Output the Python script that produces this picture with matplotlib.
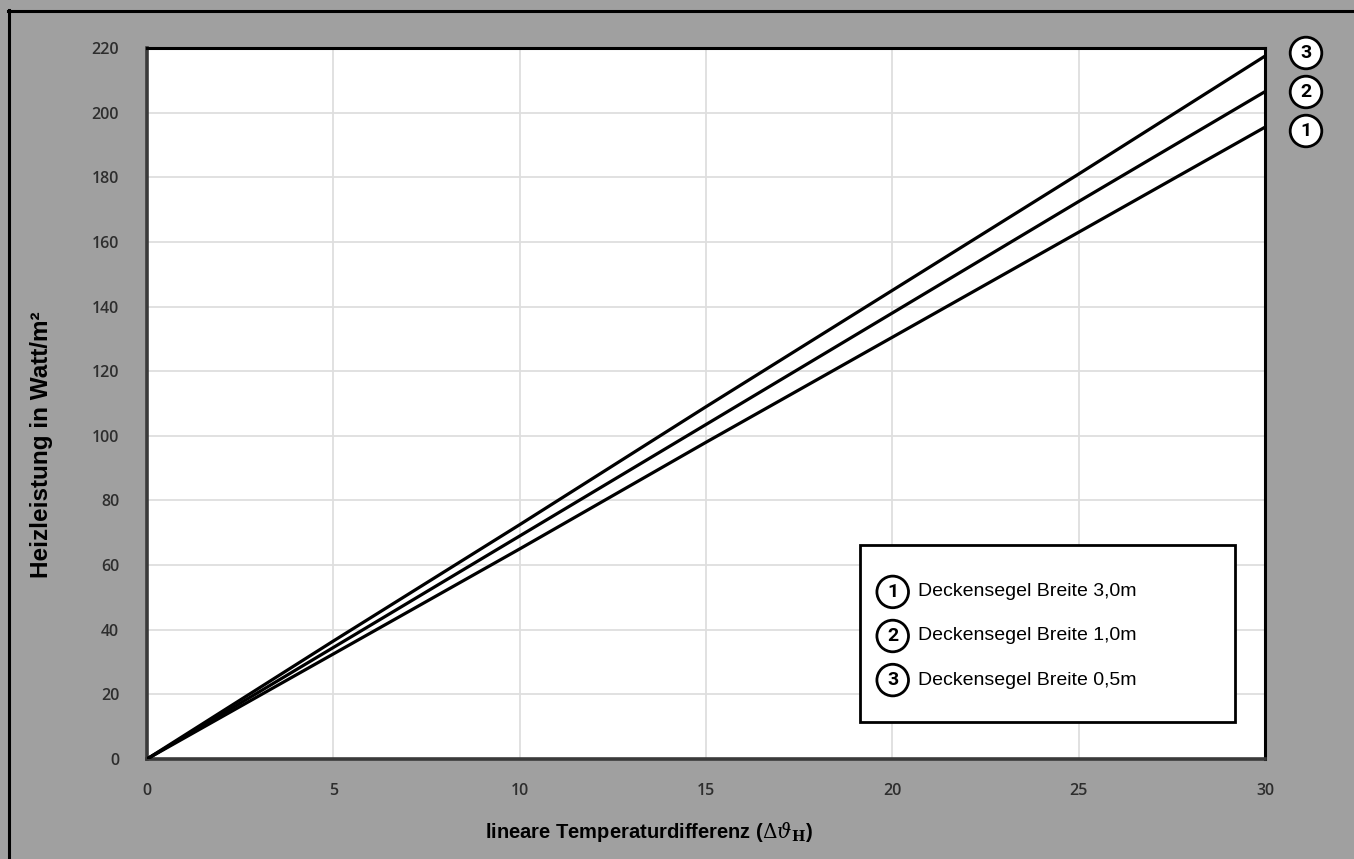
import matplotlib.pyplot as plt
from matplotlib.patches import Rectangle
from matplotlib.lines import Line2D

# Data
temp_diff = [0, 5, 10, 15, 20, 25, 30]
breite_3_0 = [0, 32.5, 65, 98, 130.5, 163, 195.5]
breite_1_0 = [0, 34.5, 69, 103.5, 138, 172.5, 206.5]
breite_0_5 = [0, 36.5, 72.5, 109, 145, 181, 217.5]
series = [breite_3_0, breite_1_0, breite_0_5]
legend_labels = ['Deckensegel Breite 3,0m', 'Deckensegel Breite 1,0m', 'Deckensegel Breite 0,5m']
x_ticks = [0, 5, 10, 15, 20, 25, 30]
y_ticks = list(range(0, 221, 20))

sans = ['Liberation Sans', 'DejaVu Sans']
bg = '#a0a0a0'

fig = plt.figure(figsize=(13.54, 8.59), dpi=100, facecolor=bg)
ax = fig.add_axes([147 / 1354, 1 - 759 / 859, 1118 / 1354, 711 / 859])
ax.set_facecolor('white')

for ys in series:
    ax.plot(temp_diff, ys, color='black', linewidth=2.3, solid_capstyle='butt', zorder=3)

ax.set_xlim(0, 30)
ax.set_ylim(0, 220)
ax.set_xticks(x_ticks)
ax.set_yticks(y_ticks)
ax.grid(True, color='#dedede', linewidth=1.3)
ax.set_axisbelow(True)
ax.tick_params(length=0, labelsize=11.5, labelcolor='#2e2e2e', pad=20)
ax.tick_params(axis='x', pad=17)
for lbl in ax.get_xticklabels() + ax.get_yticklabels():
    lbl.set_fontfamily(['Open Sans', 'DejaVu Sans'])
    lbl.set_fontweight('semibold')

for side in ['top', 'right']:
    ax.spines[side].set_color('black')
    ax.spines[side].set_linewidth(2.2)
for side in ['left', 'bottom']:
    ax.spines[side].set_color('#3a3a3a')
    ax.spines[side].set_linewidth(2.6)

# axis titles
fig.text(42 / 1354, 1 - 445 / 859, 'Heizleistung in Watt/m²', rotation=90,
         ha='center', va='center', fontsize=17.5, fontweight='bold', family=sans)
fig.text(649 / 1354, 1 - 832 / 859, 'lineare Temperaturdifferenz ($\\Delta\\vartheta_{\\mathsf{\\mathbf{H}}}$)',
         ha='center', va='center', fontsize=14.5, fontweight='bold', family=sans,
         math_fontfamily='dejavuserif')

circle_box = dict(boxstyle='circle,pad=0.35', facecolor='white', edgecolor='black', linewidth=2)

# legend box
ax.add_patch(Rectangle((0.638, 0.052), 0.335, 0.249, transform=ax.transAxes,
                       facecolor='white', edgecolor='black', linewidth=2, zorder=4))
for i, (label, yy) in enumerate(zip(legend_labels, [0.235, 0.173, 0.111])):
    ax.text(0.667, yy, str(i + 1), transform=ax.transAxes, ha='center', va='center',
            fontsize=14, fontweight='bold', family=['Roboto', 'DejaVu Sans'],
            bbox=circle_box, zorder=5)
    ax.text(0.690, yy, label, transform=ax.transAxes, ha='left', va='center',
            fontsize=14, family=sans, zorder=5)

# circled numbers at line ends
for num, yy in zip(['3', '2', '1'], [53, 92, 131]):
    fig.text(1306 / 1354, 1 - yy / 859, num, ha='center', va='center', fontsize=14,
             fontweight='bold', family=['Roboto', 'DejaVu Sans'], bbox=circle_box)

# frame lines along top and left edge
fig.add_artist(Line2D([9 / 1354, 9 / 1354], [0, 1 - 10 / 859], color='black',
                      linewidth=2.2, transform=fig.transFigure))
fig.add_artist(Line2D([8 / 1354, 1], [1 - 11 / 859, 1 - 11 / 859], color='black',
                      linewidth=2.2, transform=fig.transFigure))

fig.savefig('out.png', dpi=100, facecolor=bg)
